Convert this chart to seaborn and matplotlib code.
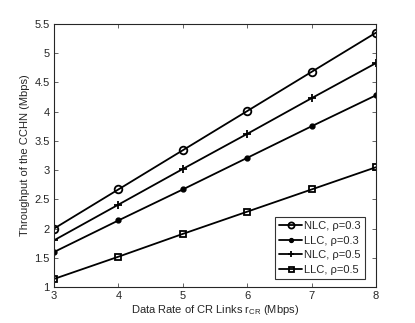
import pandas as pd
import matplotlib
matplotlib.use("Agg")
import matplotlib.pyplot as plt
import seaborn as sns

rates = [3, 4, 5, 6, 7, 8]
nlc_03 = [2.00, 2.67, 3.34, 4.01, 4.68, 5.35]
llc_03 = [1.60, 2.14, 2.67, 3.21, 3.75, 4.28]
nlc_05 = [1.80, 2.41, 3.02, 3.62, 4.23, 4.83]
llc_05 = [1.14, 1.52, 1.91, 2.29, 2.67, 3.05]
labels = ["NLC, \u03c1=0.3", "LLC, \u03c1=0.3", "NLC, \u03c1=0.5", "LLC, \u03c1=0.5"]

sns.set_style("ticks")
plt.rcParams["font.family"] = ["Liberation Sans", "DejaVu Sans"]
plt.rcParams["mathtext.fontset"] = "custom"
plt.rcParams["mathtext.rm"] = "Liberation Sans"
plt.rcParams["mathtext.it"] = "Liberation Sans"

df = pd.DataFrame({
    "rate": rates * 4,
    "thr": nlc_03 + llc_03 + nlc_05 + llc_05,
    "scheme": sum([[l] * len(rates) for l in labels], []),
})

fig = plt.figure(figsize=(4.15, 3.23), dpi=100)
ax = fig.add_axes([0.130, 0.111, 0.776, 0.815])

for lab, mk in zip(labels, ["o", ".", "+", "s"]):
    sub = df[df["scheme"] == lab]
    kw = dict(marker=mk, color="black", lw=1.3, label=lab, ax=ax,
              markeredgecolor="black")
    if mk == "o":
        kw.update(markersize=5.5, markerfacecolor="none", markeredgewidth=1.3)
    elif mk == ".":
        kw.update(markersize=7, markerfacecolor="black", markeredgewidth=1)
    elif mk == "+":
        kw.update(markersize=6, markeredgewidth=1.3)
    else:
        kw.update(markersize=4.5, markerfacecolor="none", markeredgewidth=1.3)
    sns.lineplot(data=sub, x="rate", y="thr", **kw)

ax.set_xlim(3, 8)
ax.set_ylim(1, 5.5)
ax.set_xticks(rates)
ax.set_yticks([1, 1.5, 2, 2.5, 3, 3.5, 4, 4.5, 5, 5.5])
ax.set_yticklabels(["1", "1.5", "2", "2.5", "3", "3.5", "4", "4.5", "5", "5.5"])
ax.tick_params(direction="in", top=True, right=True, labelsize=8, length=3, width=0.5, pad=3)
for s in ax.spines.values():
    s.set_linewidth(0.8)
ax.set_xlabel("Data Rate of CR Links r$_{\\rm CR}$ (Mbps)", fontsize=8, labelpad=1)
ax.set_ylabel("Throughput of the CCHN (Mbps)", fontsize=8, labelpad=3)
leg = ax.legend(loc="lower right", bbox_to_anchor=(365 / 415, 44 / 323),
                bbox_transform=fig.transFigure, borderaxespad=0,
                fontsize=8, frameon=True, fancybox=False,
                edgecolor="black", handlelength=2.0, handletextpad=0.2,
                labelspacing=0.4, borderpad=0.4, markerscale=0.8)
leg.get_frame().set_linewidth(0.8)

fig.savefig("out.png", dpi=100)
